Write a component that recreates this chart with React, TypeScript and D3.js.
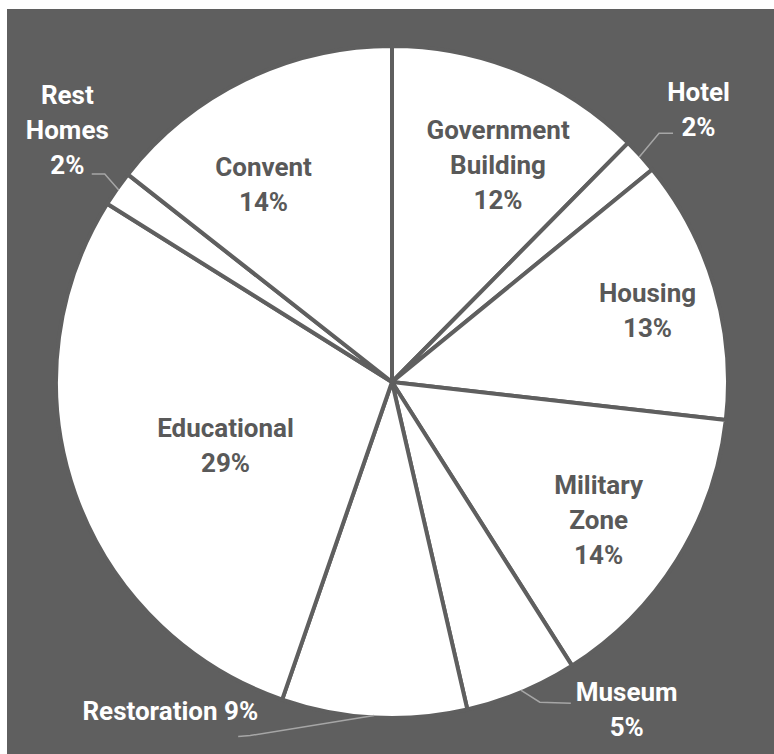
import React from 'react';
import * as d3 from 'd3';

const categories = [
  'Government Building',
  'Hotel',
  'Housing',
  'Military Zone',
  'Museum',
  'Restoration',
  'Educational',
  'Rest Homes',
  'Convent',
];
const shares = [12.4, 1.7, 12.7, 14.2, 5.4, 8.9, 28.6, 1.7, 14.4];

// how each label is written (line breaks)
const labelLines = [
  ['Government', 'Building'],
  ['Hotel'],
  ['Housing'],
  ['Military', 'Zone'],
  ['Museum'],
  ['Restoration'],
  ['Educational'],
  ['Rest', 'Homes'],
  ['Convent'],
];

const W = 774;
const H = 754;
const BG = '#5f5f5f';
const TEXT_DARK = '#595959';
const FONT = 'Roboto, "Open Sans", sans-serif';

// label layout: polar position (angle in deg, radius factor), inline percent
const labelLayout = [
  { a: 26, r: 0.72, inline: false },
  { a: 48.4, r: 1.22, inline: false },
  { a: 74.3, r: 0.79, inline: false },
  { a: 123.8, r: 0.74, inline: false },
  { a: 144.4, r: 1.2, inline: false },
  { a: 214, r: 1.18, inline: true },
  { a: 249.2, r: 0.53, inline: false },
  { a: 307.8, r: 1.223, inline: false },
  { a: 326.9, r: 0.7, inline: false },
];

const App: React.FC = () => {
  const cx = 392;
  const cy = 382;
  const radius = 336;

  const data = categories.map((name, i) => ({ name, value: shares[i], i }));
  const pie = d3.pie<typeof data[number]>().value(d => d.value).sort(null);
  const arcs = pie(data);
  const arc = d3.arc<d3.PieArcDatum<typeof data[number]>>().innerRadius(0).outerRadius(radius);

  const polar = (deg: number, r: number): [number, number] => {
    const t = (deg * Math.PI) / 180;
    return [Math.sin(t) * r, -Math.cos(t) * r];
  };
  const midDeg = (a: d3.PieArcDatum<any>) => (((a.startAngle + a.endAngle) / 2) * 180) / Math.PI;

  const lineH = 35;

  // leader lines for the outside labels
  const leaders: Record<string, [number, number][]> = {};
  arcs.forEach(a => {
    const p = polar(midDeg(a), radius - 2);
    if (a.data.name === 'Hotel') leaders.Hotel = [p, [p[0] + 20, p[1] - 24], [p[0] + 34, p[1] - 24]];
    if (a.data.name === 'Rest Homes') leaders['Rest Homes'] = [p, [p[0] - 14, p[1] - 16], [p[0] - 27, p[1] - 16]];
    if (a.data.name === 'Museum') leaders.Museum = [p, [p[0] + 19, p[1] + 12], [p[0] + 50, p[1] + 13]];
    if (a.data.name === 'Restoration') leaders.Restoration = [p, [p[0] - 124, p[1] + 20], [p[0] - 136, p[1] + 21]];
  });

  return (
    <svg width={W} height={H} style={{ position: 'absolute', left: 0, top: 0 }}>
      <rect x={7} y={9} width={W - 7} height={H - 9} fill={BG} />
      <g transform={`translate(${cx},${cy})`}>
        {arcs.map(a => (
          <path key={a.data.name} d={arc(a) || ''} fill="#ffffff" stroke={BG} strokeWidth={4} strokeLinejoin="round" />
        ))}
        {Object.entries(leaders).map(([k, pts]) => (
          <path key={k} d={d3.line()(pts) || ''} fill="none" stroke="#a6a6a6" strokeWidth={1.5} />
        ))}
        {arcs.map((a, i) => {
          const lay = labelLayout[i];
          const [x, y] = polar(lay.a, radius * lay.r);
          const outside = lay.r > 1;
          const pct = `${Math.round(a.data.value)}%`;
          const lines = lay.inline ? [`${labelLines[i].join(' ')} ${pct}`] : [...labelLines[i], pct];
          const top = y - ((lines.length - 1) * lineH) / 2;
          return (
            <text
              key={a.data.name}
              x={x}
              y={top}
              textAnchor="middle"
              dominantBaseline="central"
              fontFamily={FONT}
              fontWeight={700}
              fontSize={26}
              fill={outside ? '#ffffff' : TEXT_DARK}
            >
              {lines.map((l, j) => (
                <tspan key={j} x={x} dy={j === 0 ? 0 : lineH}>
                  {l}
                </tspan>
              ))}
            </text>
          );
        })}
      </g>
    </svg>
  );
};

export default App;
